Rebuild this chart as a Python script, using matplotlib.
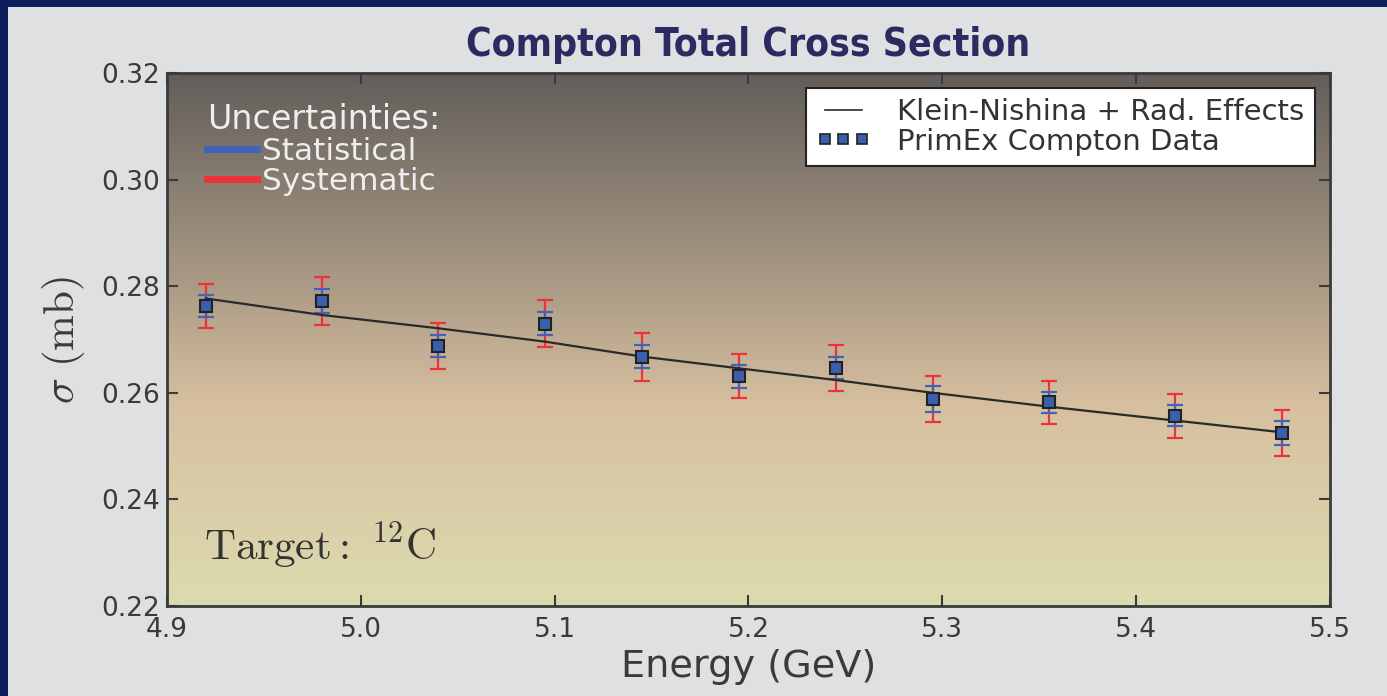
import numpy as np
import matplotlib
matplotlib.use("Agg")
import matplotlib.pyplot as plt
from matplotlib.colors import LinearSegmentedColormap
from matplotlib.lines import Line2D
from matplotlib.patches import Rectangle

# ---- data ----
energy = [4.92, 4.98, 5.04, 5.095, 5.145, 5.195, 5.245, 5.295, 5.355, 5.42, 5.475]
sigma = [0.2763, 0.2772, 0.2688, 0.2730, 0.2668, 0.2631, 0.2647, 0.2588, 0.2582, 0.2557, 0.2525]
stat_err = [0.0021, 0.0022, 0.0021, 0.0022, 0.0022, 0.0022, 0.0021, 0.0024, 0.0019, 0.0020, 0.0023]
sys_err = [0.0041, 0.0045, 0.0043, 0.0044, 0.0045, 0.0041, 0.0043, 0.0043, 0.0041, 0.0041, 0.0043]
kn_theory = [0.2777, 0.2746, 0.2721, 0.2696, 0.2668, 0.2646, 0.2624, 0.2600, 0.2574, 0.2548, 0.2526]
xticks = [4.9, 5.0, 5.1, 5.2, 5.3, 5.4, 5.5]
yticks = [0.22, 0.24, 0.26, 0.28, 0.30, 0.32]

plt.rcParams['mathtext.fontset'] = 'cm'

fig = plt.figure(figsize=(13.87, 6.96), dpi=100, facecolor='#dfe0e2')
ax = fig.add_axes([0.1204, 0.1293, 0.8385, 0.7658])

# background gradient (top dark -> bottom pale yellow)
cmap = LinearSegmentedColormap.from_list('bg', [
    (0.0, '#625d5a'), (0.2, '#877d70'), (0.4, '#ab9b86'),
    (0.62, '#d6bf9f'), (0.8, '#dacda8'), (1.0, '#dcdbae')])
grad = np.linspace(0, 1, 256).reshape(-1, 1)
ax.imshow(grad, cmap=cmap, aspect='auto', extent=[0, 1, 0, 1], origin='upper',
          transform=ax.transAxes, zorder=0, interpolation='bicubic')

blue = '#4065b8'
red = '#ee3338'
ax.errorbar(energy, sigma, yerr=sys_err, fmt='none', ecolor=red, elinewidth=1.6,
            capsize=6, capthick=1.6, zorder=3)
ax.errorbar(energy, sigma, yerr=stat_err, fmt='none', ecolor=blue, elinewidth=1.6,
            capsize=6, capthick=1.6, zorder=4)
ax.plot(energy, kn_theory, color='#2a2a2a', lw=1.6, zorder=5)
ax.plot(energy, sigma, ls='none', marker='s', ms=8, mfc='#3a5fae', mec='#222222',
        mew=1.5, zorder=6)

ax.set_xlim(4.9, 5.5)
ax.set_ylim(0.22, 0.32)
ax.set_xticks(xticks)
ax.set_xticklabels([f'{v:.1f}' for v in xticks])
ax.set_yticks(yticks)
ax.set_yticklabels([f'{v:.2f}' for v in yticks])
ax.tick_params(direction='in', length=8, width=1.5, top=True, right=True,
               labelsize=19, colors='#3a3a3a', pad=5)
ax.tick_params(axis='x', pad=8)
for s in ax.spines.values():
    s.set_linewidth(2)
    s.set_color('#3a3a3a')

ax.set_xlabel('Energy (GeV)', fontsize=27.5, color='#3a3a3a', labelpad=4)
ax.set_ylabel(r'$\sigma\ \mathrm{(mb)}$', fontsize=31, color='#3a3a3a', labelpad=10)
ax.set_title('Compton Total Cross Section', fontsize=28, fontweight='bold',
             fontstretch='condensed', color='#2b2b62', pad=12)

ax.text(0.032, 0.088, r'$\mathrm{Target:}\ ^{12}\mathrm{C}$', transform=ax.transAxes,
        fontsize=31, color='#333333', zorder=7)

# legend for data / theory
h1 = Line2D([], [], color='#2a2a2a', lw=1.2)
h2 = Line2D([], [], ls='none', marker='s', ms=7, mfc='#3a5fae', mec='#222222', mew=1.2)
leg1 = ax.legend([h1, h2], ['Klein-Nishina + Rad. Effects', 'PrimEx Compton Data'],
                 loc='upper right', numpoints=3, fontsize=21, frameon=True,
                 fancybox=False, edgecolor='#222222', framealpha=1,
                 borderpad=0.35, labelspacing=0.05, handlelength=1.9,
                 handletextpad=0.9, borderaxespad=0.0, bbox_to_anchor=(0.987, 0.972))
leg1.get_frame().set_linewidth(1.5)
for t in leg1.get_texts():
    t.set_color('#333333')
ax.add_artist(leg1)

# uncertainties legend
hs = Line2D([], [], color=blue, lw=5)
hy = Line2D([], [], color=red, lw=5)
leg2 = ax.legend([hs, hy], ['Statistical', 'Systematic'], title='Uncertainties:',
                 loc='upper left', bbox_to_anchor=(0.016, 0.985), frameon=False,
                 fontsize=22.5, title_fontsize=24, handlelength=1.6,
                 handletextpad=0.15, labelspacing=0.03, alignment='left',
                 borderpad=0.2)
leg2.get_title().set_color('#eeeeee')
for t in leg2.get_texts():
    t.set_color('#eeeeee')

# navy frame at top and left of figure
fig.patches.append(Rectangle((0, 1 - 7 / 696), 1, 7 / 696, transform=fig.transFigure,
                             facecolor='#0b1f5c', edgecolor='none', zorder=10))
fig.patches.append(Rectangle((0, 0), 8 / 1387, 1, transform=fig.transFigure,
                             facecolor='#0b1f5c', edgecolor='none', zorder=10))

fig.savefig('out.png', dpi=100, facecolor=fig.get_facecolor())
